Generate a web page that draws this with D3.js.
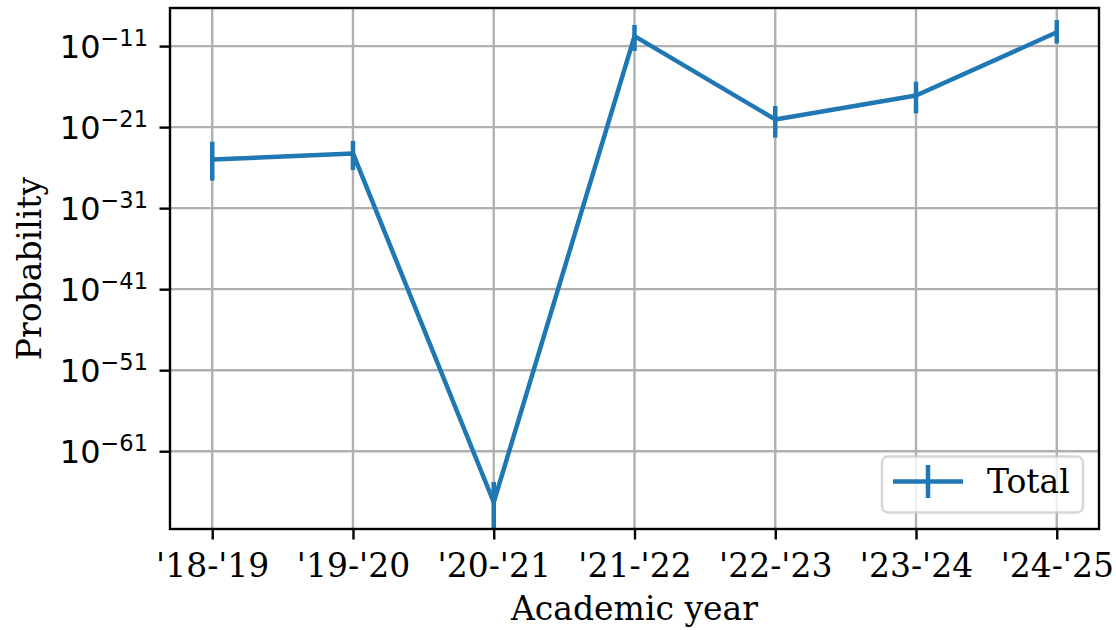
<!DOCTYPE html>
<html>
<head>
<meta charset="utf-8">
<script src="https://cdn.jsdelivr.net/npm/d3@7"></script>
<style>
  html, body { margin: 0; padding: 0; background: #fff; }
  svg { display: block; }
  text { font-family: "DejaVu Serif", serif; fill: #000; }
  .math { font-family: "DejaVu Sans", sans-serif; }
</style>
</head>
<body>
<svg id="chart" width="1116" height="630"></svg>
<script>
// Academic years on the x axis
const years = ["'18-'19", "'19-'20", "'20-'21", "'21-'22", "'22-'23", "'23-'24", "'24-'25"];
// Probability per year (central estimate)
const probability = [1.0e-25, 5.6e-25, 5.0e-68, 1.7e-10, 8.9e-21, 7.9e-18, 5.0e-10];
// Upper and lower ends of the error bars
const upperBound = [1.6e-23, 2.0e-23, 1.6e-65, 4.0e-9, 4.0e-19, 4.0e-16, 1.6e-8];
const lowerBound = [2.5e-28, 5.0e-27, 1.0e-72, 2.5e-12, 5.0e-23, 5.0e-20, 2.1e-11];
// Labelled decades on the y axis
const yTickExponents = [-11, -21, -31, -41, -51, -61];
const yDomain = [Math.pow(10, -70.6), Math.pow(10, -6.3)];
const seriesName = "Total";

const plot = { left: 170, top: 8, right: 1099, bottom: 529 };
const blue = "#1f77b4";
const fs = 33;

const svg = d3.select("#chart");

// 5% of the data span as margin on both sides
const x = d3.scalePoint()
  .domain(years)
  .range([plot.left, plot.right])
  .padding((years.length - 1) * 0.05);

const y = d3.scaleLog().domain(yDomain).range([plot.bottom, plot.top]);
const yTicks = yTickExponents.map(e => Math.pow(10, e));

svg.append("defs").append("clipPath").attr("id", "clip")
  .append("rect")
  .attr("x", plot.left).attr("y", plot.top)
  .attr("width", plot.right - plot.left).attr("height", plot.bottom - plot.top);

// Grid
const grid = svg.append("g").attr("stroke", "#b0b0b0").attr("stroke-width", 2.4);
grid.selectAll("line.gx").data(years).join("line")
  .attr("class", "gx")
  .attr("x1", d => x(d)).attr("x2", d => x(d))
  .attr("y1", plot.top).attr("y2", plot.bottom);
grid.selectAll("line.gy").data(yTicks).join("line")
  .attr("class", "gy")
  .attr("x1", plot.left).attr("x2", plot.right)
  .attr("y1", d => y(d)).attr("y2", d => y(d));

// Series line and error bars
const data = years.map((yr, i) => ({ yr, v: probability[i], lo: lowerBound[i], hi: upperBound[i] }));
const series = svg.append("g").attr("clip-path", "url(#clip)");
series.append("path")
  .datum(data)
  .attr("fill", "none")
  .attr("stroke", blue)
  .attr("stroke-width", 4.5)
  .attr("stroke-linejoin", "round")
  .attr("d", d3.line().x(d => x(d.yr)).y(d => y(d.v)));
series.selectAll("line.err").data(data).join("line")
  .attr("class", "err")
  .attr("stroke", blue)
  .attr("stroke-width", 4.5)
  .attr("x1", d => x(d.yr)).attr("x2", d => x(d.yr))
  .attr("y1", d => y(d.lo)).attr("y2", d => y(d.hi));

// Axes frame
svg.append("rect")
  .attr("x", plot.left).attr("y", plot.top)
  .attr("width", plot.right - plot.left).attr("height", plot.bottom - plot.top)
  .attr("fill", "none").attr("stroke", "#000").attr("stroke-width", 2.4);

// X axis
const xAxis = svg.append("g").attr("transform", `translate(0,${plot.bottom})`)
  .call(d3.axisBottom(x).tickSize(10.5).tickPadding(10.5));
xAxis.select(".domain").remove();
xAxis.selectAll(".tick line").attr("stroke", "#000").attr("stroke-width", 2.4);
xAxis.selectAll(".tick text")
  .attr("font-family", "DejaVu Serif").attr("font-size", fs).attr("fill", "#000")
  .attr("dy", null).attr("y", 0)
  .attr("transform", "translate(0,47.5)");

// Y axis with 10^n labels
const yAxis = svg.append("g").attr("transform", `translate(${plot.left},0)`)
  .call(d3.axisLeft(y).tickValues(yTicks).tickSize(10.5).tickPadding(10.5).tickFormat(""));
yAxis.select(".domain").remove();
yAxis.selectAll(".tick line").attr("stroke", "#000").attr("stroke-width", 2.4);
yAxis.selectAll(".tick text").remove();
yAxis.selectAll(".tick").each(function(d) {
  const e = Math.round(Math.log10(d));
  const t = d3.select(this).append("text")
    .attr("class", "math")
    .attr("x", -22)
    .attr("y", 11)
    .attr("text-anchor", "end")
    .attr("font-size", 32);
  t.append("tspan").text("10");
  t.append("tspan").attr("font-size", 22.5).attr("dy", -11.5).text("\u2212" + Math.abs(e));
});

// Axis titles
svg.append("text")
  .attr("x", (plot.left + plot.right) / 2).attr("y", 620)
  .attr("text-anchor", "middle").attr("font-size", fs)
  .text("Academic year");
svg.append("text")
  .attr("transform", `translate(41,${(plot.top + plot.bottom) / 2}) rotate(-90)`)
  .attr("text-anchor", "middle").attr("font-size", fs)
  .text("Probability");

// Legend
const lg = svg.append("g");
lg.append("rect")
  .attr("x", 882).attr("y", 456.5).attr("width", 201).attr("height", 56)
  .attr("rx", 6).attr("ry", 6)
  .attr("fill", "rgba(255,255,255,0.8)")
  .attr("stroke", "rgba(204,204,204,0.8)").attr("stroke-width", 2.4);
lg.append("line")
  .attr("x1", 893).attr("x2", 963).attr("y1", 481.5).attr("y2", 481.5)
  .attr("stroke", blue).attr("stroke-width", 4.5);
lg.append("line")
  .attr("x1", 928).attr("x2", 928).attr("y1", 465).attr("y2", 498)
  .attr("stroke", blue).attr("stroke-width", 4.5);
lg.append("text")
  .attr("x", 987).attr("y", 493).attr("font-size", fs)
  .text(seriesName);
</script>
</body>
</html>
